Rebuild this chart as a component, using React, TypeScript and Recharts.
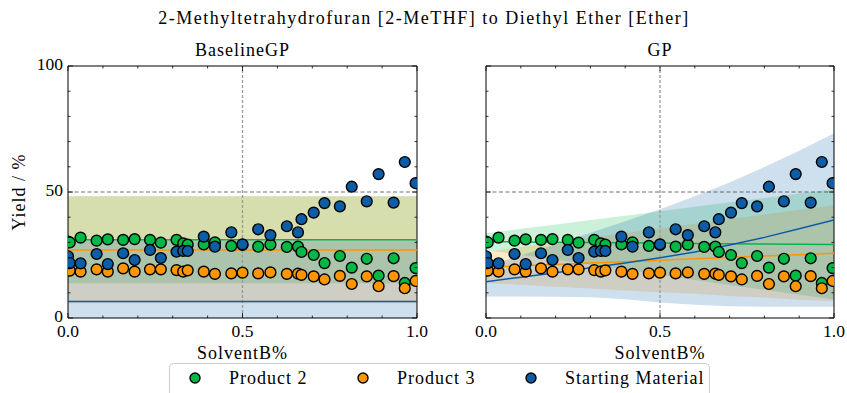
import {
  ComposedChart,
  XAxis,
  YAxis,
  Area,
  Line,
  Scatter,
  ReferenceLine,
  ReferenceArea,
} from "recharts";

// experiment points (same in both panels)
const solventB = [
  0, 0.005, 0.036, 0.082, 0.114, 0.158, 0.191, 0.235, 0.266, 0.311, 0.33,
  0.343, 0.389, 0.421, 0.468, 0.5, 0.545, 0.58, 0.627, 0.659, 0.669, 0.704,
  0.735, 0.779, 0.813, 0.856, 0.89, 0.933, 0.965, 0.996,
];
const product2 = [
  30.3, 30.0, 31.9, 30.7, 31.2, 31.0, 31.3, 31.0, 29.9, 31.0, 29.6, 29.1,
  29.2, 30.0, 28.6, 29.0, 28.3, 29.1, 28.2, 28.3, 26.2, 25.0, 21.8, 24.6,
  20.0, 23.5, 16.8, 23.7, 13.9, 19.8,
];
const product3 = [
  19.0, 18.8, 18.4, 19.3, 18.4, 19.7, 18.4, 19.3, 19.3, 19.0, 18.4, 18.9,
  18.4, 17.5, 17.7, 18.0, 17.7, 18.1, 17.5, 17.6, 17.1, 16.5, 15.3, 16.7,
  13.5, 16.5, 12.6, 16.6, 11.8, 14.7,
];
const startingMaterial = [
  24.5, 21.8, 21.7, 25.4, 21.4, 25.7, 23.0, 27.0, 23.8, 26.3, 26.6, 26.6,
  32.3, 28.3, 34.0, 29.2, 35.2, 32.9, 36.4, 34.0, 39.2, 41.8, 45.6, 44.3,
  52.1, 46.3, 57.1, 45.8, 61.9, 53.5,
];

// BaselineGP: constant mean and band
const baseX = [0, 1];
const baseP2 = { mean: 31.1, lo: 13.8, hi: 48.4 };
const baseP3 = { mean: 27.0, lo: 5.8, hi: 48.2 };
const baseSM = { mean: 6.5, lo: -18.0, hi: 31.2 };

// GP: mean and band on a grid
const gpX = [0, 0.1, 0.2, 0.3, 0.4, 0.5, 0.6, 0.7, 0.8, 0.9, 1.0];
const gpP2Mean = [30.3, 30.2, 30.1, 30.0, 29.9, 29.8, 29.6, 29.5, 29.4, 29.3, 29.2];
const gpP2Hi = [33.6, 35.4, 37.1, 38.9, 40.6, 42.4, 44.1, 45.9, 47.6, 49.4, 51.1];
const gpP2Lo = [27.0, 25.0, 23.1, 21.1, 19.2, 17.2, 15.1, 13.1, 11.2, 9.2, 7.3];
const gpP3Mean = [20.1, 20.7, 21.2, 21.8, 22.3, 22.9, 23.5, 24.0, 24.6, 25.1, 25.7];
const gpP3Hi = [26.3, 28.2, 30.0, 31.9, 33.7, 35.6, 37.4, 39.3, 41.1, 43.0, 44.8];
const gpP3Lo = [13.9, 13.2, 12.4, 11.7, 10.9, 10.2, 9.6, 8.7, 8.1, 7.2, 6.6];
const gpSMMean = [14.4, 16.2, 18.0, 19.9, 21.8, 23.9, 26.2, 29.0, 32.0, 35.4, 38.9];
const gpSMHi = [20.3, 24.8, 29.3, 33.8, 38.4, 43.2, 48.3, 53.8, 59.9, 66.4, 73.3];
const gpSMLo = [8.5, 8.5, 8.4, 8.2, 7.4, 6.2, 5.3, 4.7, 4.5, 4.5, 4.5];

const xTicks = [0, 0.1, 0.2, 0.3, 0.4, 0.5, 0.6, 0.7, 0.8, 0.9, 1.0];
const yTicks = [0, 10, 20, 30, 40, 50, 60, 70, 80, 90, 100];

const GREEN = "#00B945";
const ORANGE = "#FF9500";
const BLUE = "#0C5DA5";
const FONT = "'Liberation Serif', serif";

const PLOT_TOP = 66;
const H = 393;

const pts = (ys: number[]) => solventB.map((x, i) => ({ x, y: ys[i] }));

const baseTable = baseX.map((x) => ({
  x,
  p2: baseP2.mean,
  p3: baseP3.mean,
  sm: baseSM.mean,
  p2Band: [baseP2.lo, baseP2.hi],
  p3Band: [baseP3.lo, baseP3.hi],
  smBand: [baseSM.lo, baseSM.hi],
}));

const gpTable = gpX.map((x, i) => ({
  x,
  p2: gpP2Mean[i],
  p3: gpP3Mean[i],
  sm: gpSMMean[i],
  p2Band: [gpP2Lo[i], gpP2Hi[i]],
  p3Band: [gpP3Lo[i], gpP3Hi[i]],
  smBand: [gpSMLo[i], gpSMHi[i]],
}));

const dot = (color: string) => (p: any) =>
  <circle cx={p.cx} cy={p.cy} r={5.4} fill={color} stroke="#000" strokeWidth={1.4} />;

function Panel({ left, width, mLeft, mRight, table, yLabels }: any) {
  // axes take 1px each (an axis of size 0 is not drawn)
  const plotRight = width - mRight;

  const XTick = (p: any) => {
    const v = p.payload.value;
    const major = Math.abs(v * 2 - Math.round(v * 2)) < 1e-6;
    const len = major ? 5 : 2.5;
    return (
      <g>
        <line x1={p.x} y1={p.y} x2={p.x} y2={p.y - len} stroke="#000" strokeWidth={0.8} />
        <line x1={p.x} y1={PLOT_TOP} x2={p.x} y2={PLOT_TOP + len} stroke="#000" strokeWidth={0.8} />
        {major && (
          <text x={p.x} y={p.y + 19} textAnchor="middle" fontFamily={FONT} fontSize={17.5} fill="#000">
            {v.toFixed(1)}
          </text>
        )}
      </g>
    );
  };

  const YTick = (p: any) => {
    const v = p.payload.value;
    const major = v % 50 === 0;
    const len = major ? 5 : 2.5;
    return (
      <g>
        <line x1={p.x} y1={p.y} x2={p.x + len} y2={p.y} stroke="#000" strokeWidth={0.8} />
        <line x1={plotRight} y1={p.y} x2={plotRight - len} y2={p.y} stroke="#000" strokeWidth={0.8} />
        {major && yLabels && (
          <text x={p.x - 5} y={p.y + 4} textAnchor="end" fontFamily={FONT} fontSize={17.5} fill="#000">
            {v}
          </text>
        )}
      </g>
    );
  };

  return (
    <div style={{ position: "absolute", left, top: 0 }}>
      <ComposedChart
        width={width}
        height={H}
        margin={{ top: PLOT_TOP, right: mRight, bottom: 74, left: mLeft - 1 }}
      >
        <XAxis
          type="number"
          dataKey="x"
          domain={[0, 1]}
          ticks={xTicks}
          interval={0}
          height={1}
          tickSize={0}
          tickMargin={0}
          axisLine={false}
          tickLine={false}
          tick={XTick}
          allowDataOverflow
        />
        <YAxis
          type="number"
          domain={[0, 100]}
          ticks={yTicks}
          interval={0}
          width={1}
          tickSize={0}
          tickMargin={0}
          axisLine={false}
          tickLine={false}
          tick={YTick}
          allowDataOverflow
        />
        <ReferenceLine y={50} stroke="#333" strokeWidth={0.7} strokeDasharray="4 2.5" />
        <ReferenceLine x={0.5} stroke="#999" strokeWidth={1.3} strokeDasharray="3 2" />
        <Area data={table} dataKey="p2Band" type="linear" stroke="none" fill={GREEN} fillOpacity={0.2} dot={false} activeDot={false} isAnimationActive={false} />
        <Area data={table} dataKey="p3Band" type="linear" stroke="none" fill={ORANGE} fillOpacity={0.2} dot={false} activeDot={false} isAnimationActive={false} />
        <Area data={table} dataKey="smBand" type="linear" stroke="none" fill={BLUE} fillOpacity={0.2} dot={false} activeDot={false} isAnimationActive={false} />
        <Line data={table} dataKey="p2" type="linear" stroke={GREEN} strokeWidth={1.5} dot={false} activeDot={false} isAnimationActive={false} />
        <Line data={table} dataKey="p3" type="linear" stroke={ORANGE} strokeWidth={1.5} dot={false} activeDot={false} isAnimationActive={false} />
        <Line data={table} dataKey="sm" type="linear" stroke={BLUE} strokeWidth={1.5} dot={false} activeDot={false} isAnimationActive={false} />
        <Scatter data={pts(product2)} dataKey="y" shape={dot(GREEN)} isAnimationActive={false} />
        <Scatter data={pts(product3)} dataKey="y" shape={dot(ORANGE)} isAnimationActive={false} />
        <Scatter data={pts(startingMaterial)} dataKey="y" shape={dot(BLUE)} isAnimationActive={false} />
        <ReferenceArea x1={0} x2={1} y1={0} y2={100} fill="none" stroke="#000" strokeWidth={1} />
      </ComposedChart>
    </div>
  );
}

const legendItems = [
  { name: "Product 2", color: GREEN, cx: 195 },
  { name: "Product 3", color: ORANGE, cx: 363 },
  { name: "Starting Material", color: BLUE, cx: 531 },
];

export default function App() {
  const textStyle = { fontFamily: FONT, fontSize: 18, fill: "#000", letterSpacing: 1 };
  return (
    <div style={{ position: "absolute", left: 0, top: 0, width: 847, height: 393, background: "#fff", overflow: "hidden" }}>
      <Panel left={0} width={445} mLeft={68} mRight={28} table={baseTable} yLabels />
      <Panel left={420} width={427} mLeft={66} mRight={13} table={gpTable} yLabels={false} />
      <svg width={847} height={393} style={{ position: "absolute", left: 0, top: 0, pointerEvents: "none" }}>
        <text x={424} y={24} textAnchor="middle" {...textStyle} letterSpacing={1.5}>
          2-Methyltetrahydrofuran [2-MeTHF] to Diethyl Ether [Ether]
        </text>
        <text x={242.5} y={56} textAnchor="middle" {...textStyle}>BaselineGP</text>
        <text x={660} y={56} textAnchor="middle" {...textStyle}>GP</text>
        <text x={242.5} y={359} textAnchor="middle" {...textStyle}>SolventB%</text>
        <text x={660} y={359} textAnchor="middle" {...textStyle}>SolventB%</text>
        <text transform="translate(25,192) rotate(-90)" textAnchor="middle" {...textStyle}>Yield / %</text>
        <rect x={169.5} y={363.5} width={540} height={40} rx={4} fill="#fff" stroke="#ccc" strokeWidth={1} />
        {legendItems.map((it) => (
          <g key={it.name}>
            <circle cx={it.cx} cy={378} r={5} fill={it.color} stroke="#000" strokeWidth={1.4} />
            <text x={it.cx + 34} y={384} {...textStyle}>{it.name}</text>
          </g>
        ))}
      </svg>
    </div>
  );
}
